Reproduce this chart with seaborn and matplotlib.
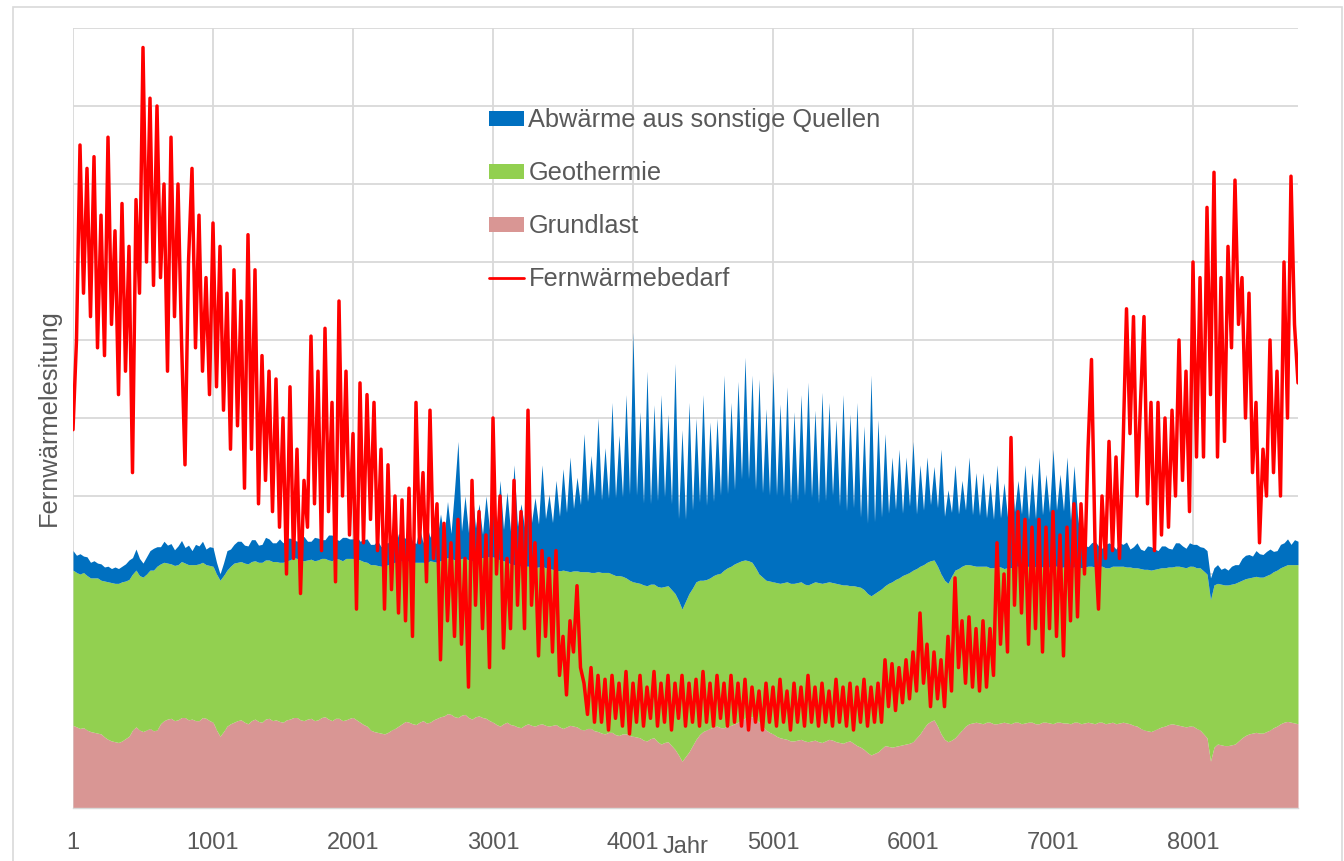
import numpy as np
import matplotlib
matplotlib.use("Agg")
import matplotlib.pyplot as plt
import seaborn as sns
import pandas as pd
from matplotlib.patches import Patch, Rectangle
from matplotlib.lines import Line2D

# ---------------- data ----------------
hours = np.arange(1, 8761, 25)  # hour of the year, sampled every 25 h (351 values)

grundlast = [
    1.06, 1.04, 1.02, 1.03, 1.00, 0.98, 0.97, 0.96, 0.95, 0.91,
    0.88, 0.86, 0.85, 0.84, 0.86, 0.89, 0.92, 1.00, 1.04, 1.00,
    0.98, 1.00, 1.02, 0.99, 1.00, 1.08, 1.12, 1.14, 1.15, 1.12,
    1.13, 1.16, 1.16, 1.13, 1.14, 1.12, 1.12, 1.16, 1.15, 1.12,
    1.10, 1.00, 0.92, 0.98, 1.05, 1.08, 1.10, 1.12, 1.13, 1.10,
    1.08, 1.12, 1.14, 1.11, 1.10, 1.14, 1.15, 1.12, 1.13, 1.11,
    1.10, 1.13, 1.14, 1.16, 1.16, 1.13, 1.12, 1.14, 1.15, 1.12,
    1.13, 1.16, 1.17, 1.14, 1.12, 1.15, 1.15, 1.12, 1.13, 1.15,
    1.16, 1.13, 1.10, 1.07, 1.05, 1.00, 0.98, 0.97, 0.96, 0.95,
    0.97, 1.00, 1.02, 1.05, 1.08, 1.11, 1.10, 1.08, 1.07, 1.10,
    1.12, 1.09, 1.10, 1.13, 1.15, 1.17, 1.18, 1.21, 1.20, 1.17,
    1.16, 1.19, 1.20, 1.16, 1.14, 1.17, 1.18, 1.16, 1.15, 1.12,
    1.10, 1.07, 1.05, 1.08, 1.10, 1.07, 1.06, 1.04, 1.03, 1.06,
    1.08, 1.06, 1.05, 1.07, 1.08, 1.06, 1.05, 1.06, 1.07, 1.04,
    1.02, 1.04, 1.06, 1.05, 1.04, 1.01, 1.00, 1.02, 1.02, 0.99,
    0.98, 0.96, 0.95, 0.97, 0.97, 0.94, 0.93, 0.95, 0.95, 0.93,
    0.92, 0.91, 0.90, 0.87, 0.86, 0.89, 0.90, 0.85, 0.82, 0.84,
    0.85, 0.80, 0.75, 0.68, 0.60, 0.66, 0.72, 0.80, 0.88, 0.94,
    0.98, 1.00, 1.02, 1.04, 1.05, 1.03, 1.03, 1.05, 1.06, 1.08,
    1.10, 1.13, 1.15, 1.17, 1.17, 1.14, 1.10, 1.05, 1.00, 0.97,
    0.95, 0.92, 0.90, 0.89, 0.88, 0.86, 0.86, 0.87, 0.88, 0.86,
    0.85, 0.86, 0.87, 0.85, 0.84, 0.86, 0.88, 0.87, 0.85, 0.84,
    0.83, 0.85, 0.86, 0.83, 0.80, 0.78, 0.75, 0.71, 0.68, 0.70,
    0.72, 0.76, 0.80, 0.79, 0.78, 0.79, 0.80, 0.81, 0.82, 0.83,
    0.85, 0.90, 0.95, 1.02, 1.08, 1.11, 1.13, 1.05, 0.95, 0.88,
    0.85, 0.87, 0.90, 0.95, 1.00, 1.05, 1.08, 1.09, 1.10, 1.09,
    1.08, 1.10, 1.10, 1.08, 1.08, 1.09, 1.10, 1.09, 1.08, 1.10,
    1.10, 1.08, 1.09, 1.10, 1.10, 1.08, 1.08, 1.10, 1.10, 1.09,
    1.08, 1.10, 1.10, 1.09, 1.09, 1.08, 1.10, 1.10, 1.08, 1.09,
    1.10, 1.09, 1.08, 1.10, 1.10, 1.08, 1.09, 1.10, 1.08, 1.09,
    1.10, 1.09, 1.08, 1.06, 1.05, 1.02, 1.00, 0.99, 0.98, 1.00,
    1.02, 1.04, 1.05, 1.07, 1.08, 1.07, 1.06, 1.05, 1.04, 1.05,
    1.05, 1.02, 1.00, 0.95, 0.90, 0.60, 0.78, 0.82, 0.81, 0.80,
    0.80, 0.81, 0.82, 0.86, 0.90, 0.93, 0.95, 0.96, 0.97, 0.96,
    0.96, 0.98, 1.00, 1.03, 1.05, 1.08, 1.10, 1.11, 1.10, 1.09,
    1.08,
]

geothermie = [
    1.99, 1.98, 1.98, 1.99, 1.98, 1.97, 1.98, 1.99, 1.97, 2.00,
    2.02, 2.03, 2.03, 2.04, 2.04, 2.02, 2.01, 2.00, 2.01, 1.98,
    1.98, 2.00, 2.03, 2.06, 2.10, 2.05, 2.03, 2.00, 1.98, 1.99,
    1.99, 2.00, 1.98, 1.99, 1.98, 2.00, 2.01, 1.99, 1.97, 1.99,
    2.00, 2.00, 2.00, 2.00, 2.00, 2.02, 2.04, 2.03, 2.03, 2.04,
    2.05, 2.04, 2.03, 2.04, 2.05, 2.04, 2.03, 2.04, 2.03, 2.04,
    2.05, 2.04, 2.04, 2.05, 2.04, 2.04, 2.05, 2.04, 2.04, 2.05,
    2.05, 2.04, 2.03, 2.04, 2.05, 2.05, 2.04, 2.05, 2.07, 2.05,
    2.04, 2.06, 2.08, 2.09, 2.10, 2.12, 2.14, 2.14, 2.14, 2.15,
    2.15, 2.14, 2.13, 2.11, 2.09, 2.07, 2.06, 2.07, 2.08, 2.05,
    2.03, 2.05, 2.07, 2.03, 2.00, 2.00, 2.00, 2.00, 2.00, 2.01,
    2.02, 2.01, 2.00, 2.02, 2.03, 2.02, 2.02, 2.05, 2.07, 2.10,
    2.12, 2.13, 2.13, 2.09, 2.05, 2.06, 2.06, 2.07, 2.07, 2.04,
    2.02, 2.03, 2.03, 2.02, 2.02, 2.02, 2.02, 2.00, 1.98, 2.00,
    2.03, 2.00, 1.97, 1.99, 2.00, 2.02, 2.03, 2.01, 2.00, 2.03,
    2.05, 2.06, 2.07, 2.05, 2.03, 2.04, 2.05, 2.02, 2.00, 1.99,
    1.98, 1.98, 1.98, 1.99, 1.99, 1.98, 1.97, 1.99, 2.01, 2.00,
    2.00, 2.00, 2.00, 1.98, 1.95, 1.99, 2.03, 2.02, 2.02, 1.98,
    1.94, 1.93, 1.93, 1.94, 1.95, 1.98, 2.02, 2.03, 2.04, 2.05,
    2.05, 2.04, 2.03, 2.00, 1.98, 1.94, 1.90, 1.91, 1.92, 1.94,
    1.95, 1.97, 1.98, 2.00, 2.02, 2.02, 2.02, 2.02, 2.02, 2.01,
    2.01, 2.02, 2.03, 2.04, 2.04, 2.03, 2.02, 2.02, 2.03, 2.03,
    2.03, 2.01, 1.99, 2.02, 2.04, 2.05, 2.05, 2.04, 2.04, 2.05,
    2.06, 2.05, 2.05, 2.09, 2.12, 2.14, 2.15, 2.17, 2.18, 2.19,
    2.20, 2.17, 2.15, 2.10, 2.07, 2.06, 2.05, 2.05, 2.05, 2.04,
    2.03, 2.10, 2.15, 2.12, 2.10, 2.07, 2.04, 2.02, 2.00, 2.01,
    2.02, 2.00, 1.98, 2.00, 2.02, 2.00, 1.97, 1.99, 2.00, 2.00,
    2.00, 1.99, 1.99, 2.00, 2.00, 2.01, 2.01, 1.99, 1.98, 2.00,
    2.02, 2.00, 1.98, 2.00, 2.01, 2.00, 1.99, 2.00, 2.00, 2.00,
    2.00, 2.01, 2.01, 2.00, 2.00, 2.00, 1.99, 2.00, 2.02, 2.01,
    2.00, 2.00, 2.01, 2.02, 2.03, 2.05, 2.06, 2.07, 2.07, 2.06,
    2.05, 2.04, 2.03, 2.02, 2.01, 2.03, 2.04, 2.04, 2.04, 2.05,
    2.05, 2.06, 2.08, 2.09, 2.10, 2.07, 2.08, 2.06, 2.06, 2.06,
    2.06, 2.06, 2.06, 2.04, 2.02, 2.01, 2.00, 2.00, 2.00, 2.00,
    2.00, 2.00, 2.00, 2.00, 2.00, 2.00, 2.00, 2.01, 2.02, 2.03,
    2.04,
]

abwaerme = [
    0.25, 0.22, 0.26, 0.21, 0.24, 0.20, 0.22, 0.19, 0.21, 0.18,
    0.20, 0.18, 0.21, 0.19, 0.20, 0.22, 0.25, 0.21, 0.27, 0.22,
    0.18, 0.22, 0.25, 0.28, 0.25, 0.22, 0.27, 0.23, 0.26, 0.20,
    0.24, 0.27, 0.20, 0.25, 0.18, 0.26, 0.23, 0.27, 0.20, 0.24,
    0.24, 0.15, 0.08, 0.16, 0.25, 0.22, 0.24, 0.27, 0.26, 0.23,
    0.23, 0.28, 0.27, 0.22, 0.23, 0.29, 0.27, 0.24, 0.24, 0.30,
    0.25, 0.29, 0.28, 0.23, 0.22, 0.30, 0.31, 0.24, 0.23, 0.30,
    0.28, 0.24, 0.24, 0.32, 0.33, 0.25, 0.24, 0.30, 0.27, 0.25,
    0.25, 0.30, 0.24, 0.28, 0.30, 0.26, 0.26, 0.32, 0.25, 0.30,
    0.28, 0.34, 0.20, 0.36, 0.30, 0.28, 0.38, 0.27, 0.24, 0.45,
    0.25, 0.50, 0.30, 0.48, 0.30, 0.60, 0.30, 0.72, 0.32, 0.90,
    1.52, 0.35, 0.80, 0.35, 0.93, 0.40, 0.70, 0.30, 0.78, 0.35,
    0.60, 0.38, 1.02, 0.40, 0.90, 0.42, 1.28, 0.50, 0.80, 0.50,
    1.20, 0.57, 0.90, 0.55, 1.30, 0.63, 0.95, 0.60, 1.15, 0.70,
    1.30, 0.75, 1.47, 0.80, 1.20, 0.86, 1.77, 0.90, 1.50, 0.98,
    1.97, 0.93, 1.60, 0.95, 2.20, 1.00, 1.80, 1.02, 2.35, 1.10,
    3.20, 1.12, 2.20, 1.05, 2.75, 1.03, 2.30, 1.10, 2.47, 1.15,
    2.20, 1.10, 2.95, 1.05, 2.30, 1.05, 2.45, 1.00, 2.10, 1.00,
    2.38, 0.95, 2.00, 0.95, 2.00, 1.00, 2.50, 0.95, 2.10, 0.95,
    2.32, 1.05, 2.60, 1.05, 2.40, 1.00, 2.50, 1.08, 2.20, 1.10,
    2.70, 1.12, 2.30, 1.10, 2.50, 1.02, 2.20, 1.05, 2.40, 1.14,
    2.60, 1.10, 2.20, 1.02, 2.45, 1.05, 2.30, 1.12, 2.10, 1.00,
    2.44, 0.95, 2.20, 1.00, 2.36, 0.90, 2.10, 0.90, 2.83, 0.92,
    2.20, 0.92, 1.95, 0.90, 1.60, 0.90, 1.65, 0.80, 1.50, 0.85,
    1.65, 0.70, 1.30, 0.70, 1.35, 0.72, 1.20, 0.75, 1.60, 0.82,
    1.20, 0.82, 1.35, 0.70, 1.10, 0.70, 1.38, 0.65, 1.20, 0.65,
    1.20, 0.62, 1.10, 0.62, 1.30, 0.63, 1.10, 0.65, 1.42, 0.70,
    1.10, 0.70, 1.32, 0.60, 1.20, 0.62, 1.41, 0.67, 1.20, 0.70,
    1.50, 0.72, 1.20, 0.72, 1.40, 0.61, 1.30, 0.65, 0.32, 0.28,
    0.25, 0.30, 0.33, 0.26, 0.23, 0.30, 0.32, 0.27, 0.22, 0.30,
    0.28, 0.32, 0.23, 0.27, 0.32, 0.25, 0.24, 0.30, 0.30, 0.26,
    0.23, 0.28, 0.28, 0.24, 0.23, 0.30, 0.30, 0.27, 0.25, 0.30,
    0.28, 0.30, 0.27, 0.30, 0.30, 0.28, 0.22, 0.24, 0.19, 0.22,
    0.19, 0.23, 0.24, 0.22, 0.28, 0.30, 0.30, 0.27, 0.33, 0.30,
    0.29, 0.31, 0.32, 0.26, 0.25, 0.30, 0.30, 0.33, 0.26, 0.32,
    0.30,
]

fernwaermebedarf = [
    4.85, 6.00, 8.50, 6.60, 8.20, 6.30, 8.35, 5.90, 7.60, 5.80,
    8.60, 6.20, 7.40, 5.30, 7.75, 5.60, 7.20, 4.30, 7.80, 6.60,
    9.75, 7.00, 9.10, 6.70, 9.00, 6.80, 8.00, 5.60, 8.60, 6.30,
    8.00, 6.00, 4.40, 7.00, 8.20, 5.90, 7.60, 5.60, 6.80, 5.30,
    7.50, 5.40, 7.20, 5.10, 6.60, 4.60, 6.90, 4.90, 6.50, 4.10,
    7.35, 4.60, 6.90, 3.90, 5.80, 4.20, 5.60, 3.80, 5.50, 3.60,
    5.00, 3.00, 5.40, 3.20, 4.60, 2.75, 4.20, 3.60, 6.05, 3.90,
    5.60, 3.30, 6.15, 3.80, 5.20, 2.90, 6.50, 4.00, 5.60, 3.50,
    4.80, 2.55, 5.45, 3.40, 5.30, 3.70, 5.20, 3.30, 4.60, 2.55,
    4.40, 2.80, 4.00, 2.50, 3.95, 2.40, 4.10, 2.20, 5.20, 3.40,
    4.30, 2.90, 5.10, 3.20, 3.90, 1.90, 3.65, 2.40, 3.40, 2.20,
    3.70, 2.10, 3.20, 1.55, 4.20, 2.60, 3.80, 2.30, 3.50, 1.80,
    5.00, 3.00, 4.00, 2.05, 3.20, 2.30, 4.20, 2.60, 3.80, 2.30,
    5.10, 2.60, 3.40, 1.95, 3.30, 2.20, 3.20, 2.00, 3.30, 1.70,
    2.20, 1.45, 2.40, 2.00, 2.85, 1.80, 1.60, 1.20, 1.80, 1.10,
    1.70, 1.10, 1.65, 1.00, 1.70, 1.15, 1.60, 1.05, 1.75, 0.95,
    1.60, 1.10, 1.70, 1.05, 1.55, 1.15, 1.75, 1.05, 1.60, 1.10,
    1.70, 1.00, 1.60, 1.15, 1.70, 1.05, 1.60, 1.10, 1.65, 1.05,
    1.75, 1.10, 1.60, 1.05, 1.70, 1.15, 1.60, 1.05, 1.70, 1.10,
    1.60, 1.05, 1.65, 1.00, 1.55, 1.10, 1.50, 1.00, 1.60, 1.10,
    1.55, 1.05, 1.65, 1.10, 1.50, 1.00, 1.60, 1.10, 1.55, 1.05,
    1.70, 1.10, 1.55, 1.05, 1.60, 1.10, 1.50, 1.05, 1.65, 1.10,
    1.55, 1.05, 1.60, 1.00, 1.55, 1.10, 1.65, 1.05, 1.55, 1.10,
    1.60, 1.10, 1.90, 1.30, 1.85, 1.25, 1.80, 1.35, 1.90, 1.40,
    2.00, 1.50, 2.50, 1.60, 2.10, 1.30, 2.00, 1.40, 1.90, 1.30,
    2.20, 1.50, 2.95, 1.80, 2.40, 1.60, 2.45, 1.55, 2.30, 1.50,
    2.40, 1.55, 2.30, 1.70, 3.40, 2.10, 3.00, 2.00, 4.75, 2.60,
    3.80, 2.50, 3.70, 2.10, 3.60, 2.30, 3.70, 2.00, 3.60, 2.30,
    3.80, 2.20, 3.50, 1.95, 3.60, 2.40, 3.90, 2.45, 3.90, 3.00,
    4.60, 5.75, 3.40, 2.55, 4.00, 3.20, 4.70, 3.30, 4.50, 3.20,
    4.60, 6.40, 4.80, 6.30, 4.00, 5.20, 6.30, 3.90, 5.20, 3.30,
    5.20, 3.50, 5.00, 3.60, 5.10, 4.00, 6.00, 4.20, 5.60, 3.80,
    7.00, 4.50, 6.80, 4.50, 7.70, 5.30, 8.15, 4.50, 6.80, 4.70,
    7.20, 5.90, 8.05, 6.20, 6.80, 5.00, 6.60, 4.30, 5.20, 3.40,
    4.60, 4.00, 6.00, 4.30, 5.60, 4.00, 7.00, 5.00, 8.10, 6.20,
    5.45,
]

xtick_values = [1, 1001, 2001, 3001, 4001, 5001, 6001, 7001, 8001]
ytick_values = [0, 1, 2, 3, 4, 5, 6, 7, 8, 9, 10]
label_abw = "Abwärme aus sonstige Quellen"
label_geo = "Geothermie"
label_grund = "Grundlast"
label_fern = "Fernwärmebedarf"
x_label = "Jahr"
y_label = "Fernwärmelesitung"

# ---------------- style ----------------
sns.set_theme(style="white")
plt.rcParams["font.family"] = ["Liberation Sans", "DejaVu Sans"]

c_blue = "#0070C0"
c_green = "#92D050"
c_pink = "#D99694"
c_red = "#FF0000"
c_grid = "#D9D9D9"
c_text = "#595959"

fig = plt.figure(figsize=(13.44, 8.61), dpi=100)
fig.patch.set_facecolor("white")
ax = fig.add_axes([73 / 1344, 53 / 861, 1225 / 1344, 780 / 861])

ax.stackplot(hours, grundlast, geothermie, abwaerme,
             colors=[c_pink, c_green, c_blue], linewidth=0, zorder=2)

df = pd.DataFrame({"Stunde": hours, "Bedarf": fernwaermebedarf})
sns.lineplot(data=df, x="Stunde", y="Bedarf", color=c_red, linewidth=2.5,
             estimator=None, ax=ax, zorder=3, legend=False)

ax.set_xlim(1, 8751)
ax.set_ylim(0, 10)
ax.set_xticks(xtick_values)
ax.set_xticklabels([str(v) for v in xtick_values])
ax.set_yticks(ytick_values)
ax.set_yticklabels([])
ax.set_axisbelow(True)
ax.grid(True, color=c_grid, linewidth=1.3)
ax.tick_params(axis="x", length=0, pad=17, labelsize=17, labelcolor=c_text)
ax.tick_params(axis="y", length=0)
for s in ["top", "right", "left"]:
    ax.spines[s].set_visible(False)
ax.spines["bottom"].set_color(c_grid)
ax.spines["bottom"].set_linewidth(1.0)

ax.set_xlabel(x_label, fontsize=17, color=c_text)
ax.xaxis.set_label_coords(0.5, -0.036)
ax.set_ylabel(y_label, fontsize=18.3, color=c_text)
ax.yaxis.set_label_coords(-0.0095, 0.5)

handles = [
    Patch(facecolor=c_blue, edgecolor="none"),
    Patch(facecolor=c_green, edgecolor="none"),
    Patch(facecolor=c_pink, edgecolor="none"),
    Line2D([0], [0], color=c_red, linewidth=2.0),
]
leg = ax.legend(handles, [label_abw, label_geo, label_grund, label_fern],
                loc="upper left", bbox_to_anchor=(0.3396, 0.897),
                frameon=False, fontsize=18.3, handlelength=1.38,
                handleheight=0.5, handletextpad=0.17, labelspacing=1.14,
                borderpad=0, borderaxespad=0)
for t in leg.get_texts():
    t.set_color(c_text)

# thin outer frame of the chart area
fig.add_artist(Rectangle((13 / 1344, -0.01), 1329 / 1344, 0.9919 + 0.01,
                         transform=fig.transFigure, fill=False,
                         edgecolor=c_grid, linewidth=1.2))

fig.savefig("out.png", dpi=100, facecolor="white")
